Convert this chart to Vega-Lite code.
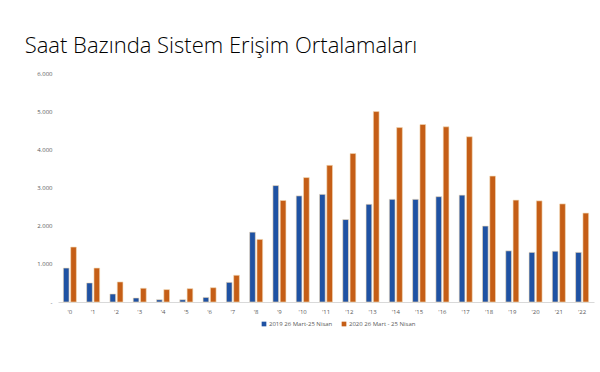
{
  "$schema": "https://vega.github.io/schema/vega-lite/v6.json",
  "autosize": {"type": "none"},
  "width": 536,
  "height": 229,
  "padding": {"left": 58, "top": 73, "right": 6, "bottom": 70},
  "background": "white",
  "title": {
    "text": "Saat Bazında Sistem Erişim Ortalamaları",
    "anchor": "start",
    "font": "Open Sans",
    "fontWeight": 300,
    "fontSize": 22,
    "color": "#000000",
    "dx": -12,
    "offset": -5,
    "baseline": "alphabetic"
  },
  "data": {
    "values": [
      {"saat": "'0", "seri": "2019 26 Mart-25 Nisan", "deger": 890},
      {"saat": "'0", "seri": "2020 26 Mart - 25 Nisan", "deger": 1440},
      {"saat": "'1", "seri": "2019 26 Mart-25 Nisan", "deger": 500},
      {"saat": "'1", "seri": "2020 26 Mart - 25 Nisan", "deger": 890},
      {"saat": "'2", "seri": "2019 26 Mart-25 Nisan", "deger": 210},
      {"saat": "'2", "seri": "2020 26 Mart - 25 Nisan", "deger": 525},
      {"saat": "'3", "seri": "2019 26 Mart-25 Nisan", "deger": 105},
      {"saat": "'3", "seri": "2020 26 Mart - 25 Nisan", "deger": 360},
      {"saat": "'4", "seri": "2019 26 Mart-25 Nisan", "deger": 60},
      {"saat": "'4", "seri": "2020 26 Mart - 25 Nisan", "deger": 325},
      {"saat": "'5", "seri": "2019 26 Mart-25 Nisan", "deger": 60},
      {"saat": "'5", "seri": "2020 26 Mart - 25 Nisan", "deger": 350},
      {"saat": "'6", "seri": "2019 26 Mart-25 Nisan", "deger": 120},
      {"saat": "'6", "seri": "2020 26 Mart - 25 Nisan", "deger": 375},
      {"saat": "'7", "seri": "2019 26 Mart-25 Nisan", "deger": 515},
      {"saat": "'7", "seri": "2020 26 Mart - 25 Nisan", "deger": 700},
      {"saat": "'8", "seri": "2019 26 Mart-25 Nisan", "deger": 1830},
      {"saat": "'8", "seri": "2020 26 Mart - 25 Nisan", "deger": 1640},
      {"saat": "'9", "seri": "2019 26 Mart-25 Nisan", "deger": 3050},
      {"saat": "'9", "seri": "2020 26 Mart - 25 Nisan", "deger": 2660},
      {"saat": "'10", "seri": "2019 26 Mart-25 Nisan", "deger": 2780},
      {"saat": "'10", "seri": "2020 26 Mart - 25 Nisan", "deger": 3260},
      {"saat": "'11", "seri": "2019 26 Mart-25 Nisan", "deger": 2820},
      {"saat": "'11", "seri": "2020 26 Mart - 25 Nisan", "deger": 3580},
      {"saat": "'12", "seri": "2019 26 Mart-25 Nisan", "deger": 2160},
      {"saat": "'12", "seri": "2020 26 Mart - 25 Nisan", "deger": 3890},
      {"saat": "'13", "seri": "2019 26 Mart-25 Nisan", "deger": 2560},
      {"saat": "'13", "seri": "2020 26 Mart - 25 Nisan", "deger": 4990},
      {"saat": "'14", "seri": "2019 26 Mart-25 Nisan", "deger": 2690},
      {"saat": "'14", "seri": "2020 26 Mart - 25 Nisan", "deger": 4570},
      {"saat": "'15", "seri": "2019 26 Mart-25 Nisan", "deger": 2690},
      {"saat": "'15", "seri": "2020 26 Mart - 25 Nisan", "deger": 4650},
      {"saat": "'16", "seri": "2019 26 Mart-25 Nisan", "deger": 2760},
      {"saat": "'16", "seri": "2020 26 Mart - 25 Nisan", "deger": 4590},
      {"saat": "'17", "seri": "2019 26 Mart-25 Nisan", "deger": 2800},
      {"saat": "'17", "seri": "2020 26 Mart - 25 Nisan", "deger": 4330},
      {"saat": "'18", "seri": "2019 26 Mart-25 Nisan", "deger": 1990},
      {"saat": "'18", "seri": "2020 26 Mart - 25 Nisan", "deger": 3300},
      {"saat": "'19", "seri": "2019 26 Mart-25 Nisan", "deger": 1340},
      {"saat": "'19", "seri": "2020 26 Mart - 25 Nisan", "deger": 2670},
      {"saat": "'20", "seri": "2019 26 Mart-25 Nisan", "deger": 1300},
      {"saat": "'20", "seri": "2020 26 Mart - 25 Nisan", "deger": 2650},
      {"saat": "'21", "seri": "2019 26 Mart-25 Nisan", "deger": 1330},
      {"saat": "'21", "seri": "2020 26 Mart - 25 Nisan", "deger": 2570},
      {"saat": "'22", "seri": "2019 26 Mart-25 Nisan", "deger": 1300},
      {"saat": "'22", "seri": "2020 26 Mart - 25 Nisan", "deger": 2330}
    ]
  },
  "mark": {"type": "bar", "stroke": "#f3dcb8", "strokeWidth": 0.6},
  "encoding": {
    "x": {
      "field": "saat",
      "type": "nominal",
      "sort": null,
      "title": null,
      "scale": {"paddingInner": 0.44, "paddingOuter": 0.23},
      "axis": {
        "labelAngle": 0,
        "labelFont": "Open Sans",
        "labelFontSize": 6,
        "labelColor": "#595959",
        "labelPadding": 6,
        "ticks": false,
        "domainColor": "#d9d9d9",
        "domainWidth": 1
      }
    },
    "xOffset": {"field": "seri", "type": "nominal", "scale": {"paddingInner": 0.22}},
    "y": {
      "field": "deger",
      "type": "quantitative",
      "title": null,
      "scale": {"domain": [0, 6000]},
      "axis": {
        "values": [0, 1000, 2000, 3000, 4000, 5000, 6000],
        "labelExpr": "datum.value == 0 ? '-' : replace(format(datum.value, ','), ',', '.')",
        "labelFont": "Open Sans",
        "labelFontSize": 6,
        "labelColor": "#595959",
        "labelPadding": 6,
        "ticks": false,
        "domain": false,
        "grid": false
      }
    },
    "color": {
      "field": "seri",
      "type": "nominal",
      "title": null,
      "scale": {
        "domain": ["2019 26 Mart-25 Nisan", "2020 26 Mart - 25 Nisan"],
        "range": ["#1f52a3", "#c55e16"]
      },
      "legend": {
        "orient": "none",
        "direction": "horizontal",
        "legendX": 203,
        "legendY": 248,
        "symbolType": "square",
        "symbolSize": 22,
        "symbolStrokeWidth": 0,
        "labelFont": "Open Sans",
        "labelFontSize": 6,
        "labelColor": "#595959",
        "labelOffset": 2,
        "columnPadding": 8
      }
    }
  },
  "config": {"view": {"stroke": null}}
}
